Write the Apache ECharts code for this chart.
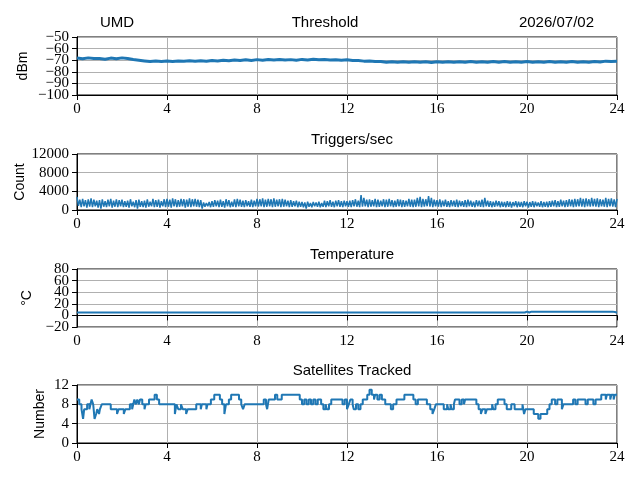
<!DOCTYPE html>
<html>
<head>
<meta charset="utf-8">
<script src="https://cdn.jsdelivr.net/npm/echarts@6/dist/echarts.min.js"></script>
<style>html,body{margin:0;padding:0;background:#fff}#c{width:640px;height:480px}</style>
</head>
<body>
<div id="c"></div>
<script>
// ---- data ----
var hourTicks = [0, 4, 8, 12, 16, 20, 24];
var thresholdTicks = [-100, -90, -80, -70, -60, -50];
var triggerTicks = [0, 4000, 8000, 12000];
var temperatureTicks = [-20, 0, 20, 40, 60, 80];
var satelliteTicks = [0, 4, 8, 12];
var panelTitles = ['Threshold', 'Triggers/sec', 'Temperature', 'Satellites Tracked'];
var yNames = ['dBm', 'Count', '°C', 'Number'];
var siteName = 'UMD';
var dateText = '2026/07/02';

// Threshold (dBm), one sample every 0.25 h
var thresholdStep = 0.25;
var thresholdValues = [
  -68.2,-68.8,-68.0,-68.6,-68.6,-69.2,-68.2,-68.7,
  -68.0,-68.6,-69.4,-70.0,-70.6,-71.2,-70.7,-71.2,
  -70.6,-71.1,-70.6,-71.0,-70.5,-71.0,-70.5,-70.9,
  -70.2,-70.7,-70.0,-70.5,-69.8,-70.3,-69.7,-70.2,
  -69.5,-70.0,-69.4,-69.9,-69.4,-69.9,-69.5,-70.0,
  -69.3,-69.8,-69.2,-69.7,-69.3,-69.8,-69.6,-70.1,
  -69.7,-70.2,-70.3,-70.8,-70.7,-71.2,-71.2,-71.7,
  -71.3,-71.8,-71.3,-71.8,-71.3,-71.8,-71.4,-71.9,
  -71.3,-71.8,-71.3,-71.7,-71.3,-71.8,-71.2,-71.7,
  -71.3,-71.8,-71.2,-71.7,-71.2,-71.7,-71.3,-71.7,
  -71.2,-71.7,-71.3,-71.7,-71.2,-71.7,-71.3,-71.7,
  -71.2,-71.7,-71.3,-71.7,-71.2,-71.5,-70.8,-71.1,-70.9
];

// Triggers per second, one sample every 1/16 h
var triggerStep = 0.0625;
var triggerValues = [
  2800,900,2200,600,2400,800,2100,500,2300,700,2500,600,2200,800,2000,500,
  2100,300,2300,700,1900,600,2200,800,2400,500,2000,700,2300,600,2100,800,
  2200,600,1900,700,2000,500,2300,800,1800,600,2100,300,2200,700,1900,600,
  2000,500,2300,700,1800,800,2400,600,2100,700,2200,500,1900,800,2300,600,
  2400,700,2200,500,2500,800,2300,600,2100,700,2400,800,2300,500,2200,700,
  2500,600,2300,800,2400,700,2200,600,2100,300,1600,700,1500,800,1700,600,
  1900,700,2100,800,2000,600,2200,700,1900,500,2300,800,2100,600,1800,700,
  2300,600,2400,800,2200,700,2000,600,2100,800,1900,700,2200,600,2000,800,
  2400,700,2300,800,2500,600,2200,700,2400,800,2300,600,2500,700,2200,800,
  2300,600,2400,700,2200,800,2000,600,2100,700,1900,800,2000,600,1800,700,
  1700,600,1600,300,1800,700,1500,600,1700,800,1600,700,1800,600,1500,700,
  2000,600,1900,800,2100,700,1800,600,2000,800,2100,700,1900,600,2000,800,
  1900,700,2000,600,2100,800,2300,700,2000,600,3200,700,2600,800,2200,600,
  2300,700,2100,800,2400,600,2200,700,2000,800,2300,600,2200,700,2400,800,
  2100,600,2000,700,2300,800,2200,600,2100,700,2000,800,2400,700,2200,600,
  2200,700,2600,800,2800,600,2400,700,2300,800,3000,700,2600,600,2200,800,
  2100,700,2300,600,2000,800,2200,700,1900,600,2100,800,2000,700,2200,600,
  2000,800,1900,700,2100,600,2200,800,2000,700,1800,600,2100,800,2000,700,
  2200,600,2600,800,2000,700,1900,600,1800,700,2000,800,1900,600,1800,700,
  1700,600,1900,700,1800,500,1700,800,1900,600,1800,700,1700,600,1900,800,
  1800,500,1700,700,1900,600,1800,800,1600,700,1900,600,1700,700,1800,600,
  1900,700,2000,800,2100,600,1900,700,2200,800,2000,600,2100,700,2300,800,
  2200,600,2400,700,2300,800,2600,700,2400,600,2500,800,2300,700,2600,800,
  2400,700,2500,600,2300,800,2200,700,2600,600,2400,800,2500,700,2300,600,
  2400
];

// Temperature (°C)
var tempTimes  = [0, 3.05, 3.1, 3.15, 19.9, 20.0, 20.1, 20.2, 23.8, 23.85, 23.9, 24];
var tempValues = [5, 5,    3.5, 5,    5,    6.5,  5,    6.5,  6.5,  5,     6,    4.5];

// Satellites tracked (step changes: time in hours, count)
var satTimes = [0,0.1,0.2,0.27,0.32,0.45,0.55,0.6,0.65,0.72,0.78,0.85,0.9,0.98,1.02,1.1,1.5,1.78,1.85,2.08,2.15,2.35,2.45,2.5,2.55,2.62,2.68,2.75,2.8,2.9,3.0,3.05,3.2,3.45,3.55,3.65,
  4.35,4.42,4.5,4.62,4.7,4.85,4.92,5.3,5.5,5.55,5.75,5.8,5.95,6.1,6.35,6.45,6.55,6.62,6.75,6.85,7.2,7.3,7.38,7.45,
  8.3,8.4,8.45,8.52,8.8,8.9,9.1,9.9,10.0,10.1,10.2,10.3,10.4,10.5,10.6,10.7,10.85,10.95,11.05,11.1,11.2,11.3,11.8,11.9,
  12.0,12.08,12.15,12.25,12.3,12.4,12.5,12.6,12.7,12.9,13.0,13.1,13.2,13.25,13.35,13.45,13.55,13.7,13.95,14.05,14.2,14.55,14.95,15.05,15.15,15.55,15.7,15.8,15.88,15.95,
  16.3,16.45,16.5,16.6,16.65,16.75,16.8,17.0,17.1,17.2,17.25,17.75,17.85,17.95,18.02,18.15,18.22,18.45,18.5,18.6,18.7,19.0,19.1,19.3,19.45,19.8,19.87,19.93,
  20.3,20.5,20.6,20.9,21.0,21.1,21.25,21.35,21.55,21.62,22.05,22.15,22.25,22.6,22.7,22.95,23.05,23.3,23.5,23.55,23.7,23.75,23.85,23.9,24];
var satCounts = [9,8,7,5,7,8,7,8,9,8,5,6,7,6,7,8,7,6,7,6,7,8,7,8,9,8,9,8,9,8,7,8,9,10,9,8,
  6,8,7,8,7,6,7,8,7,8,7,8,9,10,9,8,6,8,9,10,9,8,7,8,
  9,8,7,9,10,9,10,9,8,9,8,9,8,9,8,9,8,7,8,7,8,9,8,9,
  7,8,9,8,7,8,7,8,9,10,11,10,9,10,9,10,9,8,7,8,9,10,9,8,9,8,7,6,7,8,
  7,8,7,8,7,8,9,8,9,8,9,8,7,6,7,6,7,8,7,8,9,8,7,8,7,8,6,7,
  6,5,6,7,8,9,8,9,7,8,9,8,9,8,9,8,9,10,9,10,9,10,9,10,10];

// ---- build ----
function evenSeries(step, vals){ return vals.map(function(v,i){ return [i*step, v]; }); }
function pairSeries(ts, vs){ return ts.map(function(t,i){ return [t, vs[i]]; }); }

var serifFont = 'Liberation Serif';
var sansFont = 'Liberation Sans';
var blue = '#1f77b4';
var panels = [
  {top: 37,  height: 58, ticks: thresholdTicks, split: true, gap: 47, titleX: 320},
  {top: 154, height: 56, ticks: triggerTicks, split: false, gap: 50, titleX: 347},
  {top: 269, height: 58, ticks: temperatureTicks, split: true, gap: 43, titleX: 347},
  {top: 385, height: 58, ticks: satelliteTicks, split: false, gap: 30, titleX: 347}
];
var seriesData = [
  evenSeries(thresholdStep, thresholdValues),
  evenSeries(triggerStep, triggerValues),
  pairSeries(tempTimes, tempValues),
  pairSeries(satTimes, satCounts)
];
var lineWidths = [3, 1.5, 2, 2];

function fmtNum(v){ return String(v).replace('-', '\u2212'); }

var grids = [], xAxes = [], yAxes = [], series = [], titles = [];
panels.forEach(function(p, i){
  var tmin = p.ticks[0], tmax = p.ticks[p.ticks.length - 1];
  grids.push({left: 77, right: 23, top: p.top, height: p.height, show: true, borderColor: '#000', borderWidth: 1, backgroundColor: 'transparent'});
  xAxes.push({
    type: 'value', gridIndex: i, min: 0, max: 24, interval: 4,
    axisLine: {show: true, lineStyle: {color: '#000', width: 1}},
    axisTick: {show: true, inside: false, length: 5, lineStyle: {color: '#000'}},
    axisLabel: {color: '#000', fontFamily: serifFont, fontSize: 15, margin: 7, showMinLabel: true, showMaxLabel: true,
      customValues: hourTicks, formatter: fmtNum},
    splitLine: {show: true, lineStyle: {color: '#b0b0b0', width: 1}}
  });
  var labelGroups = p.split
    ? [p.ticks.filter(function(t, k){ return k % 2 === 0; }), p.ticks.filter(function(t, k){ return k % 2 === 1; })]
    : [p.ticks];
  var firstY = yAxes.length;
  labelGroups.forEach(function(group, g){
    yAxes.push({
      type: 'value', gridIndex: i, position: 'left', offset: 0,
      min: tmin, max: tmax, interval: p.ticks[1] - p.ticks[0],
      name: g === 0 ? yNames[i] : '', nameLocation: 'middle', nameGap: p.gap, nameMoveOverlap: false,
      nameTextStyle: {color: '#000', fontFamily: sansFont, fontSize: 14},
      axisLine: {show: true, lineStyle: {color: '#000', width: 1}},
      axisTick: {show: true, inside: false, length: 5, lineStyle: {color: '#000'}, customValues: p.ticks},
      axisLabel: {color: '#000', fontFamily: serifFont, fontSize: 15, margin: 8, showMinLabel: true, showMaxLabel: true,
        customValues: group, formatter: fmtNum},
      splitLine: {show: g === 0, lineStyle: {color: '#b0b0b0', width: 1}}
    });
  });
  series.push({
    type: 'line', xAxisIndex: i, yAxisIndex: firstY, data: seriesData[i],
    step: i === 3 ? 'end' : false,
    showSymbol: false, symbol: 'none', silent: true, sampling: null,
    lineStyle: {color: blue, width: lineWidths[i]}
  });
  titles.push({text: panelTitles[i], left: p.titleX, textAlign: 'center', top: p.top - 27,
    textStyle: {color: '#000', fontFamily: sansFont, fontSize: 15, fontWeight: 'normal'}});
});
titles.push({text: siteName, left: 95, top: 10, textStyle: {color: '#000', fontFamily: sansFont, fontSize: 15, fontWeight: 'normal'}});
titles.push({text: dateText, right: 41, top: 10, textStyle: {color: '#000', fontFamily: sansFont, fontSize: 15, fontWeight: 'normal'}});

var chart = echarts.init(document.getElementById('c'), null, {renderer: 'canvas'});
chart.setOption({
  animation: false,
  backgroundColor: '#fff',
  title: titles,
  grid: grids,
  xAxis: xAxes,
  yAxis: yAxes,
  series: series
});
</script>
</body>
</html>
